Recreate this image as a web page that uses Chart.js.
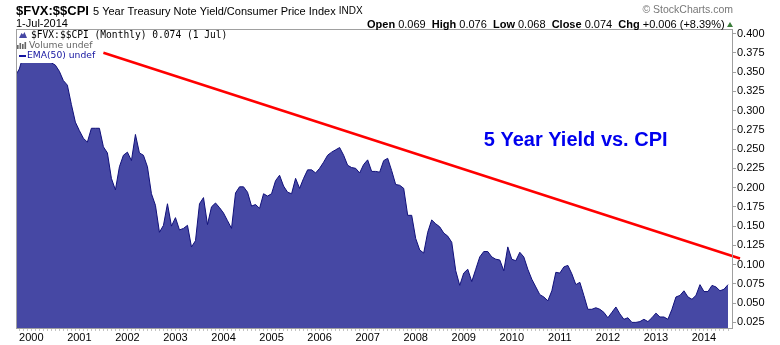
<!DOCTYPE html>
<html>
<head>
<meta charset="utf-8">
<title>$FVX:$$CPI</title>
<script src="https://cdn.jsdelivr.net/npm/chart.js@4.4.1/dist/chart.umd.min.js"></script>
<style>
  html, body { margin: 0; padding: 0; background: #fff; }
  canvas { display: block; }
</style>
</head>
<body>
<canvas id="chart" width="780" height="345"></canvas>
<script>
// monthly closes of $FVX:$$CPI, starting Sep 1999
const firstMonth = '1999-09';
const ratio = [
  0.345, 0.354, 0.372, 0.383,                                                         // 1999 Sep-Dec
  0.392, 0.388, 0.371, 0.380, 0.385, 0.362, 0.359, 0.351, 0.339, 0.333, 0.308, 0.285, // 2000
  0.274, 0.264, 0.259, 0.277, 0.277, 0.277, 0.253, 0.245, 0.212, 0.197, 0.227, 0.242, // 2001
  0.246, 0.235, 0.269, 0.245, 0.242, 0.227, 0.192, 0.177, 0.142, 0.151, 0.179, 0.150, // 2002
  0.161, 0.145, 0.147, 0.151, 0.123, 0.131, 0.179, 0.187, 0.152, 0.175, 0.180, 0.174, // 2003
  0.167, 0.157, 0.147, 0.193, 0.201, 0.201, 0.194, 0.176, 0.178, 0.173, 0.192, 0.189, // 2004
  0.192, 0.209, 0.216, 0.202, 0.194, 0.192, 0.212, 0.199, 0.212, 0.223, 0.223, 0.219, // 2005
  0.225, 0.233, 0.242, 0.246, 0.249, 0.252, 0.242, 0.229, 0.226, 0.225, 0.219, 0.230, // 2006
  0.236, 0.221, 0.221, 0.220, 0.235, 0.238, 0.222, 0.204, 0.203, 0.199, 0.164, 0.164, // 2007
  0.134, 0.119, 0.115, 0.142, 0.158, 0.153, 0.149, 0.141, 0.137, 0.129, 0.092, 0.073, // 2008
  0.089, 0.094, 0.078, 0.094, 0.110, 0.117, 0.117, 0.110, 0.107, 0.106, 0.092, 0.123, // 2009
  0.107, 0.105, 0.116, 0.110, 0.094, 0.081, 0.071, 0.061, 0.058, 0.053, 0.066, 0.090, // 2010
  0.089, 0.097, 0.099, 0.088, 0.074, 0.077, 0.060, 0.042, 0.042, 0.044, 0.042, 0.038, // 2011
  0.031, 0.038, 0.045, 0.036, 0.029, 0.031, 0.025, 0.025, 0.026, 0.029, 0.026, 0.031, // 2012
  0.037, 0.032, 0.032, 0.029, 0.042, 0.058, 0.060, 0.066, 0.058, 0.055, 0.060, 0.074, // 2013
  0.065, 0.065, 0.073, 0.071, 0.066, 0.068, 0.074                                     // 2014 Jan-Jul
];

const yearLabels = ['2000', '2001', '2002', '2003', '2004', '2005', '2006', '2007',
                    '2008', '2009', '2010', '2011', '2012', '2013', '2014'];
const yTicks = [0.025, 0.050, 0.075, 0.100, 0.125, 0.150, 0.175, 0.200,
                0.225, 0.250, 0.275, 0.300, 0.325, 0.350, 0.375, 0.400];

// hand drawn trend line and note
const trendDates = ['2001-07', '2014-10'];
const trendValues = [0.375, 0.108];
const noteDate = '2009-06';
const noteValue = 0.261;
const noteText = '5 Year Yield vs. CPI';

const quote = [['Open', '0.069'], ['High', '0.076'], ['Low', '0.068'], ['Close', '0.074'], ['Chg', '+0.006 (+8.39%)']];

function toYear(key) {
    const [y, m] = key.split('-').map(Number);
    return y + (m - 1) / 12;
}

const months = [];
let [yy, mm] = firstMonth.split('-').map(Number);
for (let i = 0; i < ratio.length; i++) {
    months.push(yy + '-' + String(mm).padStart(2, '0'));
    mm++;
    if (mm > 12) { mm = 1; yy++; }
}

const xMin = 1999.681, xMax = 2014.604;
const yMin = 0.0164, yMax = 0.4059;

const FONT = "'Liberation Sans', Arial, sans-serif";
Chart.defaults.font.family = FONT;
Chart.defaults.font.size = 11;
Chart.defaults.color = '#000';

const overlay = {
    id: 'overlay',
    afterDatasetsDraw(chart) {
        const c = chart.ctx, a = chart.chartArea;
        const xs = chart.scales.x, ys = chart.scales.y;
        c.save();
        c.textBaseline = 'middle';
        c.textAlign = 'left';

        // note text
        c.fillStyle = '#0000ee';
        c.font = 'bold 20px ' + FONT;
        c.fillText(noteText, xs.getPixelForValue(toYear(noteDate)), ys.getPixelForValue(noteValue));

        // legend boxes
        c.fillStyle = '#fff';
        c.fillRect(a.left + 1, a.top + 1, 216, 12);
        c.fillRect(a.left + 1, a.top + 1, 84, 33);

        c.fillStyle = '#4648a4';
        c.beginPath();
        c.moveTo(19, 38); c.lineTo(21.5, 33); c.lineTo(23, 34.5); c.lineTo(24.5, 32); c.lineTo(27, 38);
        c.closePath(); c.fill();
        c.fillStyle = '#000';
        c.font = "9.6px 'DejaVu Sans Mono', monospace";
        c.fillText('$FVX:$$CPI (Monthly) 0.074 (1 Jul)', 31, 35);

        c.fillStyle = '#666';
        [[17, 4], [19.5, 6], [22, 5], [24.5, 7]].forEach(([bx, h]) => c.fillRect(bx, 49 - h, 1.6, h));
        c.font = "9.2px 'DejaVu Sans', sans-serif";
        c.fillText('Volume undef', 29, 45.5);

        c.fillStyle = '#1414a0';
        c.fillRect(19, 55, 7, 2);
        c.fillText('EMA(50) undef', 27, 56);

        // frame
        c.strokeStyle = '#a0a0a0';
        c.lineWidth = 1;
        c.strokeRect(a.left + 0.5, a.top + 0.5, a.right - a.left - 1, a.bottom - a.top - 1);
        c.restore();
    },
    afterDraw(chart) {
        const c = chart.ctx;
        c.save();
        c.textBaseline = 'middle';
        c.textAlign = 'left';
        c.fillStyle = '#000';

        let x = 16;
        c.font = 'bold 13px ' + FONT;
        c.fillText('$FVX:$$CPI', x, 11);
        x += c.measureText('$FVX:$$CPI').width + 4;
        c.font = '11px ' + FONT;
        c.fillText('5 Year Treasury Note Yield/Consumer Price Index', x, 11.5);
        x += c.measureText('5 Year Treasury Note Yield/Consumer Price Index').width + 3;
        c.font = '10px ' + FONT;
        c.fillText('INDX', x, 11.5);

        c.font = '11px ' + FONT;
        c.fillText('1-Jul-2014', 16, 24);

        x = 367;
        quote.forEach(([label, val]) => {
            c.font = 'bold 11px ' + FONT;
            c.fillText(label, x, 24.5);
            x += c.measureText(label + ' ').width;
            c.font = '11px ' + FONT;
            c.fillText(val, x, 24.5);
            x += c.measureText(val + '  ').width;
        });
        c.fillStyle = '#3a7d3a';
        c.beginPath();
        c.moveTo(727, 27); c.lineTo(730, 22); c.lineTo(733, 27);
        c.closePath(); c.fill();

        c.fillStyle = '#777';
        c.textAlign = 'right';
        c.font = '10.5px ' + FONT;
        c.fillText('\u00a9 StockCharts.com', 733, 10.5);
        c.restore();
    }
};

const chart = new Chart(document.getElementById('chart').getContext('2d'), {
    type: 'line',
    data: {
        datasets: [
            {
                data: ratio.map((v, i) => ({ x: toYear(months[i]), y: v })),
                borderColor: '#10107a',
                backgroundColor: '#4648a4',
                borderWidth: 1,
                fill: 'start',
                pointRadius: 0,
                tension: 0
            },
            {
                data: trendDates.map((d, i) => ({ x: toYear(d), y: trendValues[i] })),
                borderColor: '#ff0000',
                borderWidth: 2.5,
                fill: false,
                pointRadius: 0,
                clip: false,
                order: -1
            }
        ]
    },
    options: {
        responsive: false,
        animation: false,
        devicePixelRatio: 1,
        layout: { padding: { left: 16, top: 29, right: 0, bottom: 0 } },
        plugins: { legend: { display: false }, tooltip: { enabled: false } },
        scales: {
            x: {
                type: 'linear',
                position: 'bottom',
                min: xMin,
                max: xMax,
                afterBuildTicks: s => {
                    s.ticks = months.map(toYear).filter(v => v >= xMin && v <= xMax).map(v => ({ value: v }));
                },
                afterFit: s => { s.height = 16; },
                grid: { drawOnChartArea: false, tickLength: 2, color: '#c4c4c4' },
                border: { display: false },
                ticks: {
                    autoSkip: false,
                    maxRotation: 0,
                    padding: 0,
                    font: { size: 11 },
                    callback: v => {
                        const yr = String(Math.round(v));
                        return Math.abs(v - Math.round(v)) < 1e-6 && yearLabels.includes(yr) ? yr : '';
                    }
                }
            },
            y: {
                type: 'linear',
                position: 'right',
                min: yMin,
                max: yMax,
                afterBuildTicks: s => { s.ticks = yTicks.map(v => ({ value: v })); },
                afterFit: s => { s.width = 47; },
                grid: { drawOnChartArea: false, tickLength: 3, color: '#a0a0a0' },
                border: { display: false },
                ticks: {
                    padding: 1,
                    font: { size: 11 },
                    callback: v => v.toFixed(3)
                }
            }
        }
    },
    plugins: [overlay]
});
</script>
</body>
</html>
